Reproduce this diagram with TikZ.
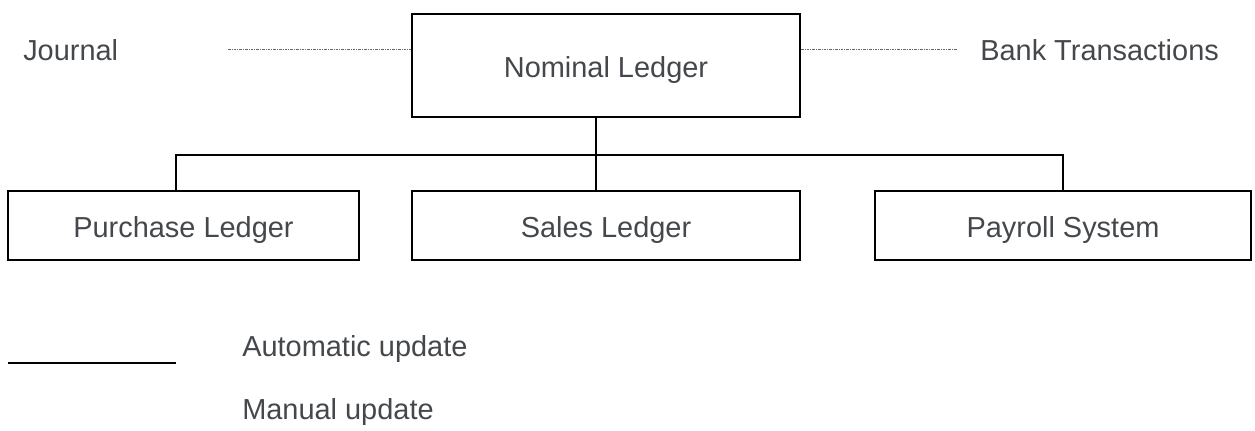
\documentclass[tikz,border=0pt]{standalone}
\usepackage{fontspec}
\setmainfont{Liberation Sans}
\definecolor{labelgray}{RGB}{68,72,77}
\begin{document}
\begin{tikzpicture}[x = 0.75pt, y = -0.75pt,
	every node/.style = {font = \fontsize{21.7}{26}\selectfont, text = labelgray},
	ledger/.style = {draw = black, line width = 1.3pt, inner sep = 0pt, text depth = 0pt, text height = 18pt},
	label/.style = {inner sep = 0pt, anchor = base west},
	link/.style = {draw = black, line width = 1.3pt},
	manual/.style = {draw = black!60, line width = 0.7pt, dash pattern = on 2pt off 0.75pt on 0.75pt off 0.75pt}]
	\useasboundingbox (0,0) rectangle (1255,430);
	\node [ledger, minimum width = 388*0.75pt, minimum height = 103*0.75pt] (nominal) at (606,65.5) {Nominal Ledger};
	\node [ledger, minimum width = 351*0.75pt, minimum height = 69*0.75pt] (purchase) at (183.5,225.5) {Purchase Ledger};
	\node [ledger, minimum width = 388*0.75pt, minimum height = 69*0.75pt] (sales) at (606,225.5) {Sales Ledger};
	\node [ledger, minimum width = 376*0.75pt, minimum height = 69*0.75pt] (payroll) at (1063,225.5) {Payroll System};
	\node [label] (journal) at (23,60) {Journal};
	\node [label] (bank) at (980,60) {Bank Transactions};
	\coordinate (busL) at (176,155);
	\coordinate (busM) at (596,155);
	\coordinate (busR) at (1063,155);
	\coordinate (jl) at (228,49);
	\coordinate (bl) at (957,49);
	\draw [link] (nominal.south -| busM) -- (sales.north -| busM);
	\draw [link] (purchase.north -| busL) |- (busR) -- (payroll.north);
	\draw [manual] (jl) -- (jl -| nominal.west);
	\draw [manual] (nominal.east |- bl) -- (bl);
	% key
	\coordinate (keyA) at (8,363);
	\coordinate (keyB) at (176,363);
	\draw [link] (keyA) -- (keyB);
	\node [label] (auto) at (242,356) {Automatic update};
	\node [label] (man) at (242,419) {Manual update};
\end{tikzpicture}
\end{document}
